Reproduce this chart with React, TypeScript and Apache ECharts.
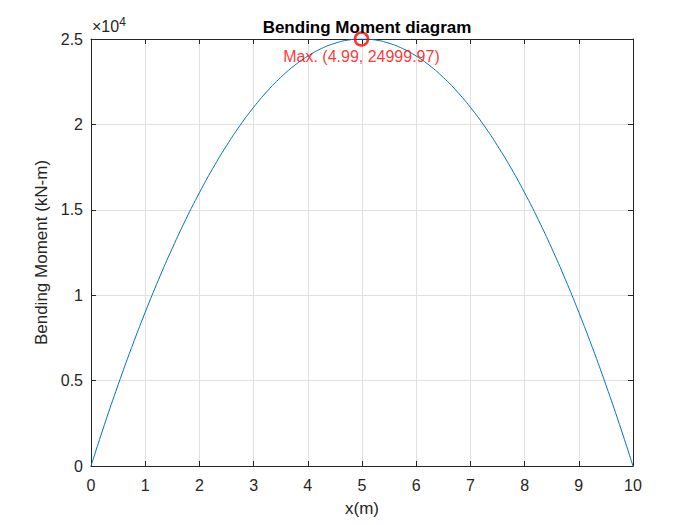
import React, { useEffect, useRef } from 'react';
import * as echarts from 'echarts';

// x positions (m) and bending moment values (kN-m)
const xValues = [
    0, 0.25, 0.5, 0.75, 1, 1.25, 1.5, 1.75, 2, 2.25, 2.5, 2.75, 3, 3.25, 3.5, 3.75, 4, 4.25, 4.5, 4.75, 5,
    5.25, 5.5, 5.75, 6, 6.25, 6.5, 6.75, 7, 7.25, 7.5, 7.75, 8, 8.25, 8.5, 8.75, 9, 9.25, 9.5, 9.75, 10,
];
const momentValues = [
    0, 2440, 4750, 6940, 9000, 10940, 12750, 14440, 16000, 17440, 18750, 19940, 21000, 21940, 22750, 23440,
    24000, 24440, 24750, 24940, 25000,
    24940, 24750, 24440, 24000, 23440, 22750, 21940, 21000, 19940, 18750, 17440, 16000, 14440, 12750, 10940,
    9000, 6940, 4750, 2440, 0,
];
const maxPoint = [4.99, 24999.97];
const maxLabel = 'Max. (4.99, 24999.97)';

const FONT = '"Liberation Sans", Arial, Helvetica, sans-serif';

const App: React.FC = () => {
    const chartRef = useRef<HTMLDivElement>(null);

    useEffect(() => {
        if (!chartRef.current) return;
        const chart = echarts.init(chartRef.current, null, { renderer: 'svg' });
        const axisLine = { show: true, onZero: false, lineStyle: { color: '#262626', width: 1 } };
        const inTick = { show: true, inside: true, length: 5, lineStyle: { color: '#262626' } };
        const option = {
            animation: false,
            backgroundColor: '#ffffff',
            title: {
                text: 'Bending Moment diagram',
                left: 362,
                textAlign: 'center',
                top: 14,
                textStyle: { fontFamily: FONT, fontSize: 17, fontWeight: 'bold', color: '#000' },
            },
            grid: { left: 91, top: 39, width: 542, height: 427 },
            xAxis: [
                {
                    type: 'value',
                    min: 0,
                    max: 10,
                    interval: 1,
                    name: 'x(m)',
                    nameLocation: 'middle',
                    nameGap: 34,
                    nameTextStyle: { fontFamily: FONT, fontSize: 17, color: '#262626' },
                    axisLine,
                    axisTick: inTick,
                    axisLabel: { fontFamily: FONT, fontSize: 16, color: '#262626', margin: 11 },
                    splitLine: { show: true, lineStyle: { color: '#e0e0e0' } },
                },
                {
                    type: 'value',
                    position: 'top',
                    min: 0,
                    max: 10,
                    interval: 1,
                    axisLine,
                    axisTick: inTick,
                    axisLabel: { show: false },
                    splitLine: { show: false },
                },
            ],
            yAxis: [
                {
                    type: 'value',
                    min: 0,
                    max: 25000,
                    interval: 5000,
                    name: 'Bending Moment (kN-m)',
                    nameLocation: 'middle',
                    nameGap: 38,
                    nameTextStyle: { fontFamily: FONT, fontSize: 17, color: '#262626' },
                    axisLine,
                    axisTick: inTick,
                    axisLabel: {
                        fontFamily: FONT,
                        fontSize: 16,
                        color: '#262626',
                        margin: 8,
                        formatter: (v: number) => String(v / 10000),
                    },
                    splitLine: { show: true, lineStyle: { color: '#e0e0e0' } },
                },
                {
                    type: 'value',
                    position: 'right',
                    min: 0,
                    max: 25000,
                    interval: 5000,
                    axisLine,
                    axisTick: inTick,
                    axisLabel: { show: false },
                    splitLine: { show: false },
                },
            ],
            graphic: [
                {
                    type: 'text',
                    left: 92,
                    top: 16,
                    style: {
                        text: '×10{sup|4}',
                        fontFamily: FONT,
                        fontSize: 16,
                        fill: '#262626',
                        rich: { sup: { fontSize: 12, verticalAlign: 'top', padding: [0, 0, 9, 0] } },
                    },
                },
            ],
            series: [
                {
                    type: 'line',
                    data: xValues.map((x, i) => [x, momentValues[i]]),
                    smooth: true,
                    showSymbol: false,
                    lineStyle: { color: '#0072BD', width: 1 },
                    z: 2,
                },
                {
                    type: 'scatter',
                    data: [maxPoint],
                    symbol: 'circle',
                    symbolSize: 13,
                    itemStyle: { color: 'rgba(255,255,255,0)', borderColor: '#ff0000', borderWidth: 2.5 },
                    label: {
                        show: true,
                        position: 'bottom',
                        distance: 2,
                        formatter: () => maxLabel,
                        fontFamily: FONT,
                        fontSize: 16,
                        color: '#ff0000',
                    },
                    z: 5,
                },
            ],
        };
        chart.setOption(option);
        return () => {
            chart.dispose();
        };
    }, []);

    return (
        <div
            ref={chartRef}
            style={{ position: 'fixed', left: 0, top: 0, width: '700px', height: '525px' }}
        />
    );
};

export default App;
